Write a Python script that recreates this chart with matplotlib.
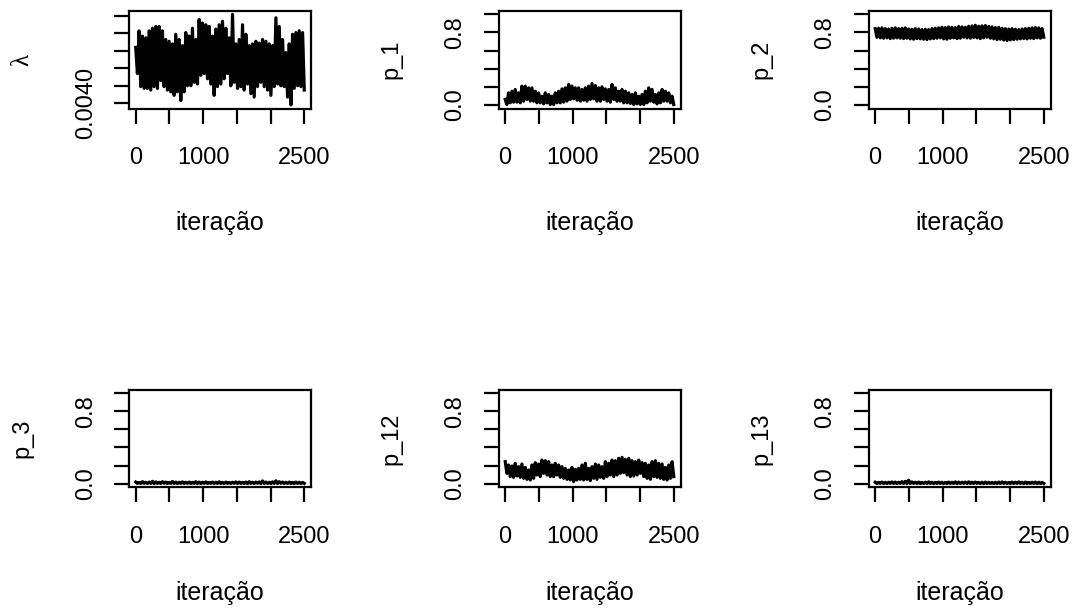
import numpy as np
import matplotlib
matplotlib.use("Agg")
import matplotlib.pyplot as plt

plt.rcParams["font.family"] = ["Liberation Sans", "DejaVu Sans"]

# trace envelopes (upper / lower value every ~50 iterations)
lam_hi = [0.00464, 0.00483, 0.00477, 0.00475, 0.00483, 0.00486, 0.00488, 0.00488, 0.00483, 0.00473,
          0.00471, 0.00468, 0.00479, 0.00473, 0.00466, 0.00481, 0.00477, 0.00486, 0.00473, 0.00496,
          0.00492, 0.00490, 0.00488, 0.00477, 0.00485, 0.00490, 0.00494, 0.00486, 0.00475, 0.00502,
          0.00468, 0.00473, 0.00490, 0.00479, 0.00466, 0.00468, 0.00471, 0.00469, 0.00473, 0.00471,
          0.00468, 0.00466, 0.00498, 0.00488, 0.00473, 0.00458, 0.00468, 0.00479, 0.00481, 0.00483,
          0.00481]
lam_lo = [0.00434, 0.00419, 0.00417, 0.00417, 0.00415, 0.00419, 0.00417, 0.00426, 0.00419, 0.00415,
          0.00413, 0.00409, 0.00413, 0.00403, 0.00413, 0.00420, 0.00420, 0.00424, 0.00422, 0.00432,
          0.00434, 0.00428, 0.00422, 0.00409, 0.00419, 0.00422, 0.00428, 0.00434, 0.00420, 0.00424,
          0.00417, 0.00419, 0.00415, 0.00422, 0.00411, 0.00407, 0.00419, 0.00424, 0.00419, 0.00415,
          0.00409, 0.00419, 0.00422, 0.00420, 0.00419, 0.00407, 0.00398, 0.00417, 0.00420, 0.00419,
          0.00415]

p1_hi = [0.060, 0.133, 0.151, 0.170, 0.133, 0.207, 0.207, 0.188, 0.188, 0.151, 0.133, 0.096, 0.133,
         0.115, 0.096, 0.133, 0.151, 0.177, 0.188, 0.225, 0.207, 0.188, 0.188, 0.170, 0.188, 0.207,
         0.236, 0.214, 0.188, 0.199, 0.177, 0.170, 0.225, 0.188, 0.151, 0.170, 0.151, 0.133, 0.115,
         0.133, 0.096, 0.115, 0.151, 0.188, 0.170, 0.115, 0.133, 0.170, 0.151, 0.133, 0.096]
p1_lo = [0.004, 0.023, 0.030, 0.030, 0.023, 0.041, 0.060, 0.041, 0.041, 0.023, 0.023, 0.011, 0.023,
         0.004, 0.004, 0.023, 0.023, 0.030, 0.041, 0.060, 0.067, 0.052, 0.041, 0.052, 0.041, 0.060,
         0.067, 0.041, 0.041, 0.060, 0.041, 0.030, 0.060, 0.041, 0.041, 0.023, 0.023, 0.015, 0.004,
         0.011, 0.004, 0.004, 0.023, 0.041, 0.030, 0.011, 0.023, 0.041, 0.041, 0.023, 0.004]

p2_hi = [0.842, 0.846, 0.850, 0.842, 0.838, 0.846, 0.850, 0.842, 0.846, 0.850, 0.838, 0.835, 0.842,
         0.838, 0.831, 0.835, 0.831, 0.842, 0.846, 0.850, 0.857, 0.853, 0.861, 0.857, 0.853, 0.865,
         0.861, 0.857, 0.868, 0.872, 0.879, 0.868, 0.872, 0.876, 0.865, 0.861, 0.853, 0.857, 0.846,
         0.842, 0.838, 0.842, 0.835, 0.831, 0.838, 0.842, 0.846, 0.850, 0.853, 0.850, 0.842]
p2_lo = [0.747, 0.740, 0.736, 0.740, 0.732, 0.736, 0.740, 0.736, 0.732, 0.736, 0.729, 0.725, 0.732,
         0.729, 0.725, 0.721, 0.729, 0.732, 0.736, 0.740, 0.729, 0.725, 0.736, 0.740, 0.732, 0.736,
         0.747, 0.740, 0.736, 0.744, 0.740, 0.732, 0.740, 0.747, 0.736, 0.729, 0.721, 0.725, 0.716,
         0.710, 0.718, 0.721, 0.725, 0.729, 0.732, 0.729, 0.736, 0.732, 0.740, 0.736, 0.747]

p3_hi = [0.018, 0.014, 0.022, 0.016, 0.018, 0.026, 0.020, 0.015, 0.022, 0.018, 0.014, 0.024, 0.018,
         0.016, 0.020, 0.015, 0.018, 0.014, 0.022, 0.018, 0.016, 0.020, 0.014, 0.018, 0.016, 0.021,
         0.015, 0.018, 0.014, 0.016, 0.020, 0.018, 0.014, 0.018, 0.022, 0.016, 0.018, 0.020, 0.030,
         0.018, 0.016, 0.020, 0.032, 0.022, 0.018, 0.016, 0.018, 0.014, 0.018, 0.016, 0.014]
p3_lo = [0.003, 0.002, 0.004, 0.002, 0.003, 0.001, 0.003, 0.002, 0.004, 0.002, 0.003, 0.002, 0.001,
         0.003, 0.002, 0.004, 0.002, 0.003, 0.001, 0.002, 0.003, 0.002, 0.004, 0.002, 0.003, 0.002,
         0.001, 0.003, 0.002, 0.004, 0.002, 0.003, 0.002, 0.001, 0.003, 0.002, 0.004, 0.002, 0.003,
         0.002, 0.001, 0.003, 0.002, 0.004, 0.002, 0.003, 0.002, 0.001, 0.003, 0.002, 0.003]

p12_hi = [0.243, 0.206, 0.195, 0.225, 0.188, 0.217, 0.180, 0.151, 0.206, 0.232, 0.217, 0.261, 0.254,
          0.243, 0.206, 0.225, 0.206, 0.188, 0.169, 0.151, 0.180, 0.158, 0.169, 0.206, 0.225, 0.169,
          0.188, 0.217, 0.206, 0.188, 0.243, 0.225, 0.261, 0.254, 0.280, 0.291, 0.269, 0.280, 0.254,
          0.243, 0.261, 0.232, 0.225, 0.206, 0.243, 0.254, 0.225, 0.217, 0.180, 0.206, 0.243]
p12_lo = [0.114, 0.078, 0.070, 0.085, 0.070, 0.059, 0.048, 0.041, 0.059, 0.096, 0.078, 0.114, 0.096,
          0.078, 0.078, 0.096, 0.070, 0.059, 0.048, 0.041, 0.023, 0.041, 0.048, 0.041, 0.048, 0.034,
          0.059, 0.048, 0.070, 0.059, 0.078, 0.096, 0.078, 0.096, 0.114, 0.122, 0.096, 0.078, 0.085,
          0.096, 0.114, 0.078, 0.059, 0.048, 0.078, 0.070, 0.059, 0.048, 0.041, 0.059, 0.078]

p13_hi = [0.016, 0.014, 0.018, 0.015, 0.016, 0.020, 0.018, 0.016, 0.022, 0.026, 0.038, 0.020, 0.016,
          0.018, 0.014, 0.016, 0.020, 0.016, 0.014, 0.018, 0.016, 0.014, 0.018, 0.016, 0.020, 0.018,
          0.016, 0.018, 0.020, 0.016, 0.018, 0.014, 0.016, 0.018, 0.016, 0.014, 0.016, 0.018, 0.020,
          0.016, 0.014, 0.018, 0.016, 0.020, 0.016, 0.018, 0.014, 0.016, 0.018, 0.016, 0.014]
p13_lo = [0.002, 0.003, 0.001, 0.002, 0.003, 0.002, 0.001, 0.003, 0.002, 0.001, 0.002, 0.003, 0.002,
          0.001, 0.003, 0.002, 0.002, 0.001, 0.003, 0.002, 0.001, 0.002, 0.003, 0.002, 0.001, 0.002,
          0.003, 0.002, 0.001, 0.002, 0.003, 0.002, 0.001, 0.002, 0.003, 0.002, 0.001, 0.002, 0.003,
          0.002, 0.001, 0.002, 0.003, 0.002, 0.001, 0.002, 0.003, 0.002, 0.001, 0.002, 0.002]

n_iter = 2500
x_ticks = [0, 500, 1000, 1500, 2000, 2500]
x_labels = ["0", "", "1000", "", "", "2500"]
p_ticks = [0.0, 0.2, 0.4, 0.6, 0.8, 1.0]
p_labels = ["0.0", "", "", "", "0.8", ""]
lam_ticks = [0.0040, 0.0042, 0.0044, 0.0046, 0.0048, 0.0050]
lam_labels = ["0.0040", "", "", "", "", ""]

panels = [
    ("λ", lam_hi, lam_lo, lam_ticks, lam_labels, None),
    ("p_1", p1_hi, p1_lo, p_ticks, p_labels, (0, 1)),
    ("p_2", p2_hi, p2_lo, p_ticks, p_labels, (0, 1)),
    ("p_3", p3_hi, p3_lo, p_ticks, p_labels, (0, 1)),
    ("p_12", p12_hi, p12_lo, p_ticks, p_labels, (0, 1)),
    ("p_13", p13_hi, p13_lo, p_ticks, p_labels, (0, 1)),
]

W, H = 1076, 612
fig = plt.figure(figsize=(W / 100, H / 100), dpi=100)

# panel boxes in pixels: left, bottom edge (from top), width, height
lefts = [129, 498.5, 868.5]
bottoms = [108.5, 487.3]
bw, bh = 182, 97.8

FS = 17
LW = 1.6
TRACE_LW = 2.3


def r_range(lo, hi):
    pad = 0.04 * (hi - lo)
    return lo - pad, hi + pad


for i, (name, hi, lo, ticks, tlabels, ylim) in enumerate(panels):
    r, c = divmod(i, 3)
    ax = fig.add_axes([lefts[c] / W, 1 - bottoms[r] / H, bw / W, bh / H])
    y = np.column_stack((hi, lo)).ravel()
    x = np.linspace(1, n_iter, len(y))
    ax.plot(x, y, color="black", lw=TRACE_LW)

    ax.set_xlim(*r_range(1, n_iter))
    if ylim is None:
        ax.set_ylim(*r_range(min(y), max(y)))
    else:
        ax.set_ylim(*r_range(*ylim))

    ax.set_xticks(x_ticks, x_labels)
    ax.set_yticks(ticks, tlabels)
    for s in ax.spines.values():
        s.set_linewidth(LW)
    ax.tick_params(direction="out", length=10.8, width=LW, labelsize=FS, color="black")
    ax.tick_params(axis="x", pad=17)
    ax.tick_params(axis="y", pad=12.5)
    for t in ax.get_yticklabels():
        t.set_rotation(90)
        t.set_va("center")

    ax.set_xlabel("iteração", fontsize=FS + 1)
    ax.xaxis.label.set_va("baseline")
    ax.xaxis.set_label_coords(0.5, -(122 if r == 0 else 113) / bh)
    if name == "λ":
        # R draws the greek letter from the symbol font
        ax.set_ylabel(name, fontsize=FS + 1, family=["Liberation Serif", "DejaVu Serif"])
    else:
        ax.set_ylabel(name, fontsize=FS)
    ax.yaxis.label.set_va("baseline")
    ax.yaxis.set_label_coords(-101 / bw, 0.5)

fig.savefig("out.png", dpi=100)
